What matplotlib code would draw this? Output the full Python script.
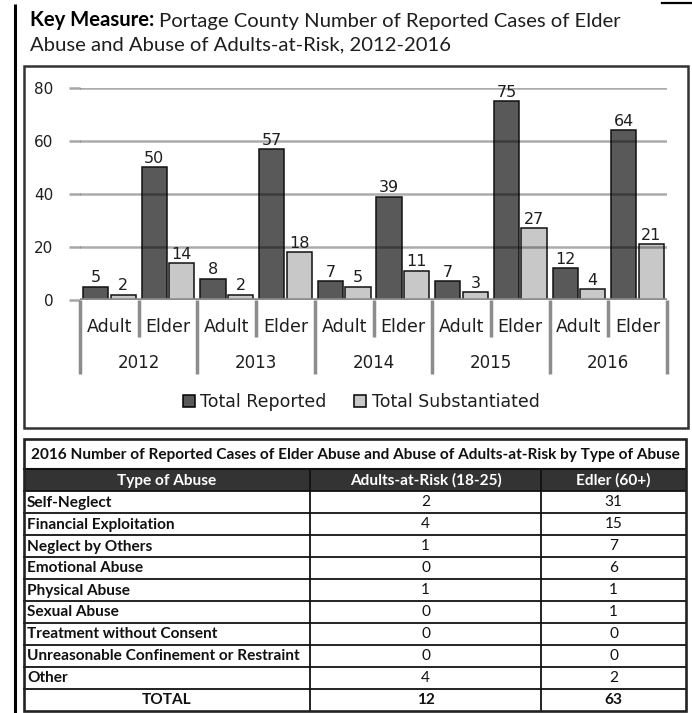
import matplotlib
matplotlib.use('Agg')
import matplotlib.pyplot as plt
from matplotlib.patches import Rectangle, Patch
import numpy as np

# ---------------- data ----------------
years = ['2012', '2013', '2014', '2015', '2016']
groups = ['Adult', 'Elder']
reported = [5, 50, 8, 57, 7, 39, 7, 75, 12, 64]
substantiated = [2, 14, 2, 18, 5, 11, 3, 27, 4, 21]
y_ticks = [0, 20, 40, 60, 80]
series_names = ['Total Reported', 'Total Substantiated']

table_title = ('2016 Number of Reported Cases of Elder Abuse and Abuse of '
               'Adults-at-Risk by Type of Abuse')
table_columns = ['Type of Abuse', 'Adults-at-Risk (18-25)', 'Edler (60+)']
abuse_types = ['Self-Neglect', 'Financial Exploitation', 'Neglect by Others',
               'Emotional Abuse', 'Physical Abuse', 'Sexual Abuse',
               'Treatment without Consent',
               'Unreasonable Confinement or Restraint', 'Other']
adults_at_risk = [2, 4, 1, 0, 1, 0, 0, 0, 4]
elder = [31, 15, 7, 6, 1, 1, 0, 0, 2]
total_label = 'TOTAL'
adults_total = 12
elder_total = 63

title_bold = 'Key Measure:'
title_rest = 'Portage County Number of Reported Cases of Elder'
title_line2 = 'Abuse and Abuse of Adults-at-Risk, 2012-2016'

# ---------------- figure ----------------
W, H = 692, 713
fig = plt.figure(figsize=(W / 100, H / 100), dpi=100)
renderer = fig.canvas.get_renderer()

ov = fig.add_axes([0, 0, 1, 1])
ov.set_xlim(0, W)
ov.set_ylim(H, 0)
ov.axis('off')

TXT = '#1e1e1e'
DARK = '#595959'
LIGHT = '#c8c8c8'


def px_rect(x0, y0, x1, y1):
    return [x0 / W, 1 - y1 / H, (x1 - x0) / W, (y1 - y0) / H]


def width_px(t):
    return t.get_window_extent(renderer=renderer).width


def fit(t, target):
    for _ in range(3):
        t.set_fontsize(t.get_fontsize() * target / width_px(t))


# frame lines
ov.plot([15, 15], [4, 713], color='black', lw=2.2, solid_capstyle='butt')
ov.plot([662, 692], [2.5, 2.5], color='black', lw=1.6)

# ---------------- title ----------------
t1 = ov.text(30, 26.5, title_bold, fontweight='bold', family='Lato',
             fontsize=14, va='baseline', color='black')
t2 = ov.text(100, 26.5, title_rest, family='Lato', fontsize=14,
             va='baseline', color=TXT)
for _ in range(3):
    fs = t1.get_fontsize()
    total = width_px(t1) + width_px(t2) + 0.25 * fs * 100 / 72
    nfs = fs * 593 / total
    t1.set_fontsize(nfs)
    t2.set_fontsize(nfs)
fs = t1.get_fontsize()
t2.set_x(30 + width_px(t1) + 0.25 * fs * 100 / 72)
ov.text(30, 50.5, title_line2, family='Lato', fontsize=fs, va='baseline',
        color=TXT)

# ---------------- chart box ----------------
ov.add_patch(Rectangle((24, 66), 664, 362, fill=False, ec='#333333', lw=1.8))

ax = fig.add_axes(px_rect(80, 88, 667, 300))
ax.patch.set_alpha(0)
ax.set_xlim(-0.5, 9.5)
ax.set_ylim(0, 80)
for s in ax.spines.values():
    s.set_visible(False)
ax.set_xticks([])
ax.set_yticks(y_ticks)
ax.tick_params(axis='y', length=8, width=1.8, color='#a6a6a6', pad=11,
               labelsize=11, labelcolor=TXT)

x = np.arange(len(reported))
off, bw = 0.235, 0.43
ax.bar(x - off, reported, width=bw, color=DARK, edgecolor='#111111',
       linewidth=1.1, zorder=2)
ax.bar(x + off, substantiated, width=bw, color=LIGHT, edgecolor='#111111',
       linewidth=1.1, zorder=2)

for v in y_ticks[1:]:
    ax.axhline(v, color='black', alpha=0.33, lw=1.8, zorder=3)
ax.axhline(0, color='#8c8c8c', lw=2.6, zorder=4)

for xi, v in zip(x, reported):
    ax.annotate(str(v), (xi - off, v), xytext=(0, 1), textcoords='offset points',
                ha='center', va='bottom', fontsize=11.5, color=TXT, zorder=5)
for xi, v in zip(x, substantiated):
    ax.annotate(str(v), (xi + off, v), xytext=(0, 1), textcoords='offset points',
                ha='center', va='bottom', fontsize=11.5, color=TXT, zorder=5)

# multi-level category axis
ppu = 212 / 80.0
short_y = -(337 - 300) / ppu
long_y = -(374 - 300) / ppu
for k in range(len(reported) + 1):
    b = k - 0.5
    yb = long_y if k % 2 == 0 else short_y
    ax.plot([b, b], [0, yb], color='#8c8c8c', lw=2.5, clip_on=False,
            solid_capstyle='butt', zorder=4)
for i in x:
    ax.text(i, -(327 - 300) / ppu, groups[i % 2], ha='center', va='center',
            fontsize=12.5, color=TXT)
for j, yr in enumerate(years):
    ax.text(2 * j + 0.5, -(363 - 300) / ppu, yr, ha='center', va='center',
            fontsize=12, color=TXT)

handles = [Patch(fc=DARK, ec='black', lw=1.1, label=series_names[0]),
           Patch(fc=LIGHT, ec='black', lw=1.1, label=series_names[1])]
fig.legend(handles=handles, loc='center', bbox_to_anchor=(361 / W, 1 - 402 / H),
           bbox_transform=fig.transFigure, ncol=2, frameon=False,
           fontsize=12.5, handlelength=0.7, handleheight=0.7,
           handletextpad=0.3, columnspacing=1.6, labelcolor=TXT,
           borderpad=0, borderaxespad=0)

# ---------------- table ----------------
TL, TR, TT, TB = 24, 686, 439, 711
C1, C2 = 310, 541
HDR_T, HDR_B = 469, 491
RH = 22

ov.add_patch(Rectangle((TL, HDR_T), TR - TL, HDR_B - HDR_T, fc='#333333',
                       ec='none', zorder=1))
ov.plot([TL, TR], [HDR_T, HDR_T], color='#111111', lw=1.5, zorder=2)
n_rows = len(abuse_types) + 1
for k in range(1, n_rows):
    yy = HDR_B + RH * k
    ov.plot([TL, TR], [yy, yy], color='#111111', lw=1.3, zorder=2)
ov.plot([TL, TR], [HDR_B, HDR_B], color='#111111', lw=1.3, zorder=2)
for cx in (C1, C2):
    ov.plot([cx, cx], [HDR_T, TB], color='#111111', lw=1.3, zorder=2)
ov.add_patch(Rectangle((TL, TT), TR - TL, TB - TT, fill=False, ec='#222222',
                       lw=1.9, zorder=3))

tt = ov.text(355, (TT + HDR_T) / 2 + 0.5, table_title, family='Lato',
             fontweight='bold', fontsize=10, ha='center', va='center',
             color='#111111')
fit(tt, 645)

probe = ov.text(27, 0, abuse_types[7], family='Lato', fontweight='bold',
                fontsize=10)
fit(probe, 274)
row_fs = probe.get_fontsize()
probe.remove()

centers = [(TL + C1) / 2, (C1 + C2) / 2, (C2 + TR) / 2]
for c, lab in zip(centers, table_columns):
    ov.text(c, (HDR_T + HDR_B) / 2 + 0.5, lab, family='Lato', fontweight='bold',
            fontsize=row_fs, ha='center', va='center', color='white', zorder=4)

for k, (lab, a, e) in enumerate(zip(abuse_types, adults_at_risk, elder)):
    yc = HDR_B + RH * k + RH / 2 + 0.5
    ov.text(27, yc, lab, family='Lato', fontweight='bold', fontsize=row_fs,
            ha='left', va='center', color='#111111', zorder=4)
    ov.text(centers[1], yc, str(a), family='Lato', fontsize=row_fs,
            ha='center', va='center', color='#111111', zorder=4)
    ov.text(centers[2], yc, str(e), family='Lato', fontsize=row_fs,
            ha='center', va='center', color='#111111', zorder=4)

yc = HDR_B + RH * (n_rows - 1) + RH / 2 + 0.5
ov.text(centers[0], yc, total_label, family='Lato', fontweight='bold',
        fontsize=row_fs, ha='center', va='center', color='#111111', zorder=4)
ov.text(centers[1], yc, str(adults_total), family='Lato', fontweight='bold',
        fontsize=row_fs, ha='center', va='center', color='#111111', zorder=4)
ov.text(centers[2], yc, str(elder_total), family='Lato', fontweight='bold',
        fontsize=row_fs, ha='center', va='center', color='#111111', zorder=4)

fig.savefig('out.png', dpi=100)
